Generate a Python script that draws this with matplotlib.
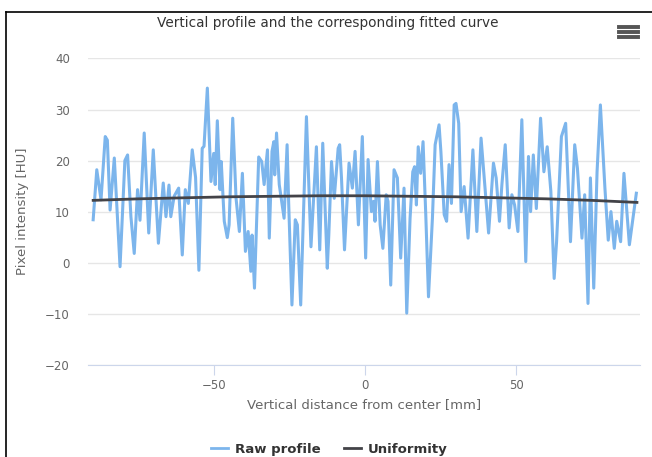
import matplotlib
matplotlib.use('Agg')
import matplotlib.pyplot as plt
from matplotlib.lines import Line2D

plt.rcParams['font.family'] = ['DejaVu Sans']

# Raw vertical profile (mm, HU)
raw_x = [-90.0, -88.8, -87.4, -86.0, -85.3, -84.4, -83.0, -81.1, -79.5, -78.6,
         -77.5, -76.4, -75.3, -74.5, -73.1, -71.6, -70.1, -68.4, -66.8, -65.9,
         -64.9, -64.3, -63.2, -61.7, -60.5, -59.5, -58.5, -57.2, -56.1, -55.0,
         -53.9, -53.3, -52.2, -51.0, -50.1, -49.6, -48.9, -48.0, -47.6, -46.6,
         -45.6, -45.0, -43.8, -42.7, -41.6, -40.6, -39.6, -38.7, -37.8, -37.4,
         -36.6, -35.2, -34.2, -33.4, -32.3, -31.7, -30.8, -30.2, -29.9, -29.3,
         -28.4, -26.8, -25.8, -25.3, -24.2, -23.1, -22.4, -21.3, -19.4, -18.6,
         -17.9, -16.1, -15.0, -14.0, -13.3, -12.5, -12.0, -11.1, -10.2, -8.9,
         -8.4, -7.8, -6.8, -5.3, -4.2, -3.3, -2.2, -0.9, 0.2, 1.0,
         2.1, 2.8, 3.3, 4.1, 5.0, 5.9, 7.0, 7.6, 8.5, 9.6,
         10.7, 11.8, 12.9, 13.8, 14.9, 15.8, 16.4, 17.0, 17.6, 18.4,
         19.2, 20.1, 21.0, 22.3, 23.2, 24.5, 25.1, 26.2, 27.0, 27.8,
         28.6, 29.5, 30.1, 31.0, 31.8, 32.8, 34.1, 35.7, 37.0, 38.4,
         39.8, 40.9, 42.5, 43.4, 44.5, 45.3, 46.4, 47.7, 48.6, 49.5,
         50.6, 51.9, 53.2, 54.1, 54.8, 55.7, 56.7, 58.1, 59.2, 60.3,
         61.5, 62.6, 63.4, 65.0, 66.4, 68.0, 69.4, 70.3, 71.8, 72.7,
         73.8, 74.6, 75.7, 76.8, 77.9, 79.4, 80.5, 81.4, 82.5, 83.3,
         84.6, 85.7, 87.5, 88.4, 89.8]
raw_y = [8.4, 18.2, 12.3, 24.7, 24.0, 10.3, 20.5, -0.8, 20.0, 21.1,
         9.0, 1.8, 14.3, 8.3, 25.4, 5.8, 22.1, 3.8, 15.6, 9.0,
         15.2, 9.0, 13.0, 14.6, 1.5, 14.3, 11.6, 22.1, 16.7, -1.5,
         22.4, 22.8, 34.2, 15.9, 21.4, 15.3, 27.8, 14.3, 19.8, 8.1,
         4.9, 7.4, 28.3, 12.6, 6.1, 17.5, 2.2, 6.1, -1.7, 5.4,
         -5.0, 20.7, 19.8, 15.3, 22.1, 4.8, 21.8, 23.7, 17.2, 25.4,
         15.3, 8.7, 23.1, 12.0, -8.3, 8.4, 7.4, -8.3, 28.6, 15.3,
         3.1, 22.7, 2.5, 23.4, 12.0, -1.1, 5.4, 19.8, 12.6, 22.4,
         23.1, 16.6, 2.5, 19.5, 14.6, 21.8, 7.4, 24.7, 0.9, 20.2,
         10.0, 12.0, 8.1, 19.8, 7.4, 2.8, 13.3, 12.0, -4.4, 18.2,
         16.6, 0.9, 14.6, -9.9, 8.7, 17.8, 18.8, 11.3, 22.7, 17.5,
         23.7, 9.4, -6.7, 8.7, 23.1, 27.0, 21.8, 9.4, 8.1, 19.2,
         11.6, 30.9, 31.2, 27.3, 10.0, 14.9, 4.8, 22.1, 6.1, 24.4,
         13.9, 5.8, 19.5, 16.6, 8.1, 15.3, 23.1, 6.8, 13.3, 11.3,
         6.1, 28.0, 0.2, 20.8, 10.0, 21.1, 10.6, 28.3, 17.8, 22.7,
         14.0, -3.1, 4.1, 24.7, 27.3, 4.1, 23.1, 18.5, 4.8, 13.3,
         -8.0, 16.6, -5.0, 17.8, 30.9, 14.6, 4.4, 10.0, 2.8, 8.1,
         4.1, 17.5, 3.5, 7.4, 13.6]

# Fitted uniformity curve
fit_x = [-90, -75, -60, -45, -30, -15, 0, 15, 30, 45, 60, 75, 90]
fit_y = [12.2, 12.5, 12.7, 12.9, 13.0, 13.1, 13.1, 13.0, 12.9, 12.7, 12.5, 12.2, 11.8]

y_ticks = [-20, -10, 0, 10, 20, 30, 40]
x_ticks = [-50, 0, 50]

BLUE = '#7cb5ec'
DARK = '#434348'
GREY_TXT = '#666666'

fig = plt.figure(figsize=(6.52, 4.57), dpi=100)
ax = fig.add_axes([0.135, 0.202, 0.847, 0.670])

ax.plot(raw_x, raw_y, color=BLUE, lw=2.2, solid_joinstyle='round', zorder=3)
ax.plot(fit_x, fit_y, color=DARK, lw=2, zorder=4)

ax.set_xlim(-91.7, 91.1)
ax.set_ylim(-20, 40)
ax.set_yticks(y_ticks)
ax.set_xticks(x_ticks)
ax.yaxis.grid(True, color='#e6e6e6', lw=1)
ax.set_axisbelow(True)
for s in ['top', 'right', 'left']:
    ax.spines[s].set_visible(False)
ax.spines['bottom'].set_color('#ccd6eb')
ax.tick_params(axis='y', length=0, pad=13, labelsize=8.5, labelcolor=GREY_TXT)
ax.tick_params(axis='x', length=7, color='#ccd6eb', pad=3, labelsize=8.5, labelcolor=GREY_TXT)

ax.set_xlabel('Vertical distance from center [mm]', fontsize=9.5, color=GREY_TXT, labelpad=5)
ax.set_ylabel('Pixel intensity [HU]', fontsize=9.5, color=GREY_TXT, labelpad=12)
fig.text(0.502, 0.950, 'Vertical profile and the corresponding fitted curve',
         ha='center', va='center', fontsize=9.8, color='#333333')

handles = [Line2D([], [], color=BLUE, lw=2), Line2D([], [], color=DARK, lw=2)]
leg = fig.legend(handles, ['Raw profile', 'Uniformity'], loc='center',
                 bbox_to_anchor=(0.505, 0.017), ncol=2, frameon=False,
                 fontsize=9.5, handlelength=1.3, handletextpad=0.5, columnspacing=1.8)
for t in leg.get_texts():
    t.set_color('#333333')
    t.set_fontweight('semibold')

# menu icon
for yy in [0.918, 0.930, 0.942]:
    fig.add_artist(Line2D([0.950, 0.978], [yy, yy], color='#555555', lw=2.8))

# screenshot frame
fig.add_artist(Line2D([0.009, 0.009], [0.0, 0.974], color='black', lw=1.2))
fig.add_artist(Line2D([0.009, 1.0], [0.974, 0.974], color='black', lw=1.2))

fig.savefig('out.png', dpi=100)
